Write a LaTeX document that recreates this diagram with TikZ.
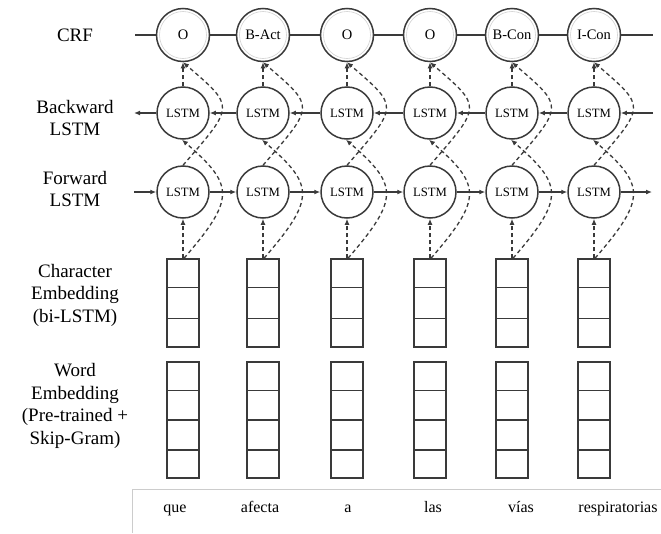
\documentclass[tikz,border=0pt]{standalone}
\usepackage{fontspec}
\setmainfont{Liberation Serif}
\usetikzlibrary{arrows.meta}
\definecolor{ln}{HTML}{3a3a3a}
\begin{document}
\begin{tikzpicture}[x=1pt,y=-1pt,
  lab/.style={align=center,font=\fontsize{19}{22.5}\selectfont},
  crfnode/.style={circle,draw=ln,line width=1.5pt,minimum size=53pt,inner sep=0pt,font=\fontsize{14.5}{16}\selectfont},
  lstm/.style={circle,draw=ln,line width=1.5pt,minimum size=52pt,inner sep=0pt,font=\fontsize{12.7}{14}\selectfont},
  emb/.style={rectangle,draw=ln,line width=1.5pt,minimum width=32pt,inner sep=0pt},
  conn/.style={draw=ln,line width=1.5pt},
  arr/.style={conn,-{Latex[length=6pt,width=5pt]}},
  dsh/.style={draw=ln,line width=1.3pt,dash pattern=on 4pt off 3pt,-{Latex[length=6pt,width=5pt]}},
  word/.style={font=\fontsize{16}{18}\selectfont,anchor=base}
]
\useasboundingbox (0,0) rectangle (661,533);
% left labels
\node[lab] (lcrf) at (75,35) {CRF};
\node[lab] (lbw) at (75,118) {Backward\\LSTM};
\node[lab] (lfw) at (75,189) {Forward\\LSTM};
\node[lab] (lch) at (75,295) {Character\\Embedding\\(bi-LSTM)};
\node[lab] (lwd) at (75,406) {Word\\Embedding\\(Pre-trained +\\Skip-Gram)};
% end coordinates
\coordinate (crfL) at (135,35);
\coordinate (crfR) at (653,35);
\coordinate (bwL) at (134,113);
\coordinate (bwR) at (653,113);
\coordinate (fwL) at (134,192);
\coordinate (fwR) at (652,192);
% columns
\foreach \i/\x/\t in {1/183/O,2/263/B-Act,3/347/O,4/430/O,5/512/B-Con,6/594/I-Con}{
  \node[crfnode] (crf\i) at (\x,35) {\t};
  \draw[gray!35,line width=0.6pt] (crf\i) circle (23.5pt);
  \node[lstm] (bw\i) at (\x,113) {LSTM};
  \node[lstm] (fw\i) at (\x,192) {LSTM};
  \node[emb,minimum height=88pt] (ch\i) at (\x,303) {};
  \draw[conn] ([yshift=-29.33pt]ch\i.north west) -- ([yshift=-29.33pt]ch\i.north east);
  \draw[conn] ([yshift=29.33pt]ch\i.south west) -- ([yshift=29.33pt]ch\i.south east);
  \node[emb,minimum height=116pt] (wd\i) at (\x,420) {};
  \draw[conn] ([yshift=-29pt]wd\i.north west) -- ([yshift=-29pt]wd\i.north east);
  \draw[conn] (wd\i.west) -- (wd\i.east);
  \draw[conn] ([yshift=29pt]wd\i.south west) -- ([yshift=29pt]wd\i.south east);
  % dashed connections
  \draw[dsh] (ch\i.north) -- (fw\i.south);
  \draw[dsh] ([xshift=1pt]ch\i.north) .. controls +(52,-60) and +(52,45) .. ([xshift=-1pt]bw\i.south);
  \draw[dsh] (fw\i.north) .. controls +(52,-60) and +(52,45) .. (crf\i.south);
  \draw[dsh] (bw\i.north) -- (crf\i.south);
}
% horizontal connectors
\draw[conn] (crfL) -- (crf1) -- (crf2) -- (crf3) -- (crf4) -- (crf5) -- (crf6) -- (crfR);
\draw[arr] (bwR) -- (bw6);
\draw[arr] (bw6) -- (bw5);
\draw[arr] (bw5) -- (bw4);
\draw[arr] (bw4) -- (bw3);
\draw[arr] (bw3) -- (bw2);
\draw[arr] (bw2) -- (bw1);
\draw[arr] (bw1) -- (bwL);
\draw[arr] (fwL) -- (fw1);
\draw[arr] (fw1) -- (fw2);
\draw[arr] (fw2) -- (fw3);
\draw[arr] (fw3) -- (fw4);
\draw[arr] (fw4) -- (fw5);
\draw[arr] (fw5) -- (fw6);
\draw[arr] (fw6) -- (fwR);
% bottom frame
\coordinate (fa) at (132,533);
\coordinate (fb) at (132,489);
\coordinate (fc) at (661,489);
\draw[gray!40,line width=1pt] (fa) -- (fb) -- (fc);
% words
\node[word] (w1) at (175,512) {que};
\node[word] (w2) at (260,512) {afecta};
\node[word] (w3) at (348,512) {a};
\node[word] (w4) at (433,512) {las};
\node[word] (w5) at (521,512) {vías};
\node[word] (w6) at (618,512) {respiratorias};
\end{tikzpicture}
\end{document}
